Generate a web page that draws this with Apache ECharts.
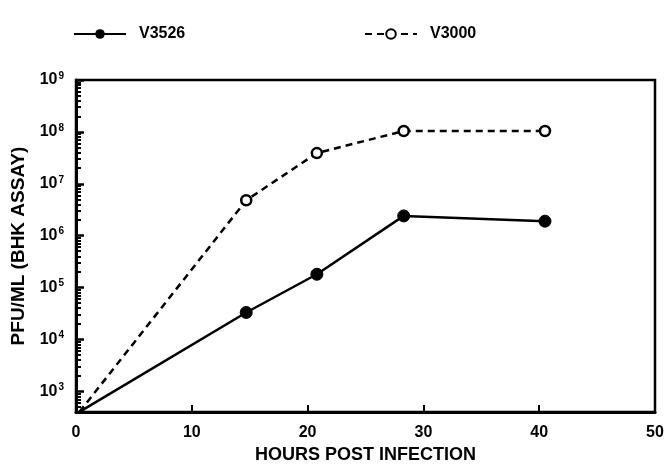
<!DOCTYPE html>
<html>
<head>
<meta charset="utf-8">
<script src="https://cdn.jsdelivr.net/npm/echarts@6/dist/echarts.min.js"></script>
<style>
  html, body { margin: 0; padding: 0; background: #fff; }
  #chart { width: 667px; height: 466px; }
</style>
</head>
<body>
<div id="chart"></div>
<script>
// hours after infection, and titers (PFU/ml)
const hours = [0.3, 14.7, 20.8, 28.3, 40.5];
const v3526 = [400, 3.3e4, 1.8e5, 2.4e6, 1.9e6];
const v3000 = [400, 4.8e6, 3.9e7, 1.04e8, 1.04e8];
const xTicks = [0, 10, 20, 30, 40, 50];
const yDecades = [3, 4, 5, 6, 7, 8, 9];
const yMin = 2.6, yMax = 9;

// minor log ticks 2..9 within each decade
const minorTicks = [];
for (let n = 2; n < 9; n++) {
  for (let k = 2; k <= 9; k++) {
    const t = n + Math.log10(k);
    if (t > yMin && t < yMax) minorTicks.push(t);
  }
}

function toPoints(vals) {
  return hours.map((h, i) => {
    const p = { value: [h, Math.log10(vals[i])] };
    if (i === 0) p.symbol = 'none';
    return p;
  });
}

const font = 'Liberation Sans, Arial, sans-serif';
const chart = echarts.init(document.getElementById('chart'), null, { renderer: 'canvas' });

const legendText = { fontFamily: font, fontSize: 16, fontWeight: 'bold', color: '#000', padding: [0, 0, 0, 8] };

chart.setOption({
  animation: false,
  textStyle: { fontFamily: font, color: '#000' },
  legend: [
    { data: ['V3526'], left: 68, top: 21, itemWidth: 52, itemHeight: 12, textStyle: legendText },
    { data: ['V3000'], left: 359, top: 21, itemWidth: 52, itemHeight: 12, textStyle: legendText }
  ],
  grid: {
    left: 76, right: 12, top: 80, bottom: 54,
    outerBoundsMode: 'none',
    show: true, borderColor: '#000', borderWidth: 2.5, backgroundColor: 'transparent'
  },
  xAxis: {
    type: 'value', min: 0, max: 50, interval: 10,
    name: 'HOURS POST INFECTION', nameLocation: 'middle', nameGap: 34,
    nameTextStyle: { fontFamily: font, fontSize: 18, fontWeight: 'bold', color: '#000' },
    axisLine: { lineStyle: { color: '#000', width: 3 } },
    axisTick: { inside: true, length: 7, lineStyle: { color: '#000', width: 2 } },
    axisLabel: {
      margin: 13, fontFamily: font, fontSize: 16, fontWeight: 'bold', color: '#000',
      formatter: v => xTicks.includes(v) ? String(v) : ''
    },
    splitLine: { show: false }
  },
  yAxis: [
    {
      type: 'value', min: yMin, max: yMax,
      name: 'PFU/ML (BHK ASSAY)', nameLocation: 'middle', nameGap: 47,
      nameTextStyle: { fontFamily: font, fontSize: 19, fontWeight: 'bold', color: '#000' },
      axisLine: { show: true, lineStyle: { color: '#000', width: 3 } },
      axisTick: { inside: true, length: 8, customValues: yDecades, lineStyle: { color: '#000', width: 2.5 } },
      axisLabel: {
        customValues: yDecades, margin: 12,
        formatter: v => '{b|10}{s|' + Math.round(v) + '}',
        rich: {
          b: { fontFamily: font, fontSize: 16, fontWeight: 'bold', color: '#000' },
          s: { fontFamily: font, fontSize: 10, fontWeight: 'bold', color: '#000', padding: [0, 0, 8, 1] }
        }
      },
      splitLine: { show: false }
    },
    {
      type: 'value', min: yMin, max: yMax, position: 'left',
      axisLine: { show: false },
      axisTick: { inside: true, length: 5, customValues: minorTicks, lineStyle: { color: '#000', width: 2 } },
      axisLabel: { show: false },
      splitLine: { show: false }
    }
  ],
  series: [
    {
      name: 'V3526', type: 'line', yAxisIndex: 0,
      data: toPoints(v3526),
      symbol: 'circle', symbolSize: 12,
      itemStyle: { color: '#000', borderColor: '#000' },
      lineStyle: { color: '#000', width: 2.5, type: 'solid' }
    },
    {
      name: 'V3000', type: 'line', yAxisIndex: 0,
      data: toPoints(v3000),
      symbol: 'circle', symbolSize: 10,
      itemStyle: { color: '#fff', borderColor: '#000', borderWidth: 2.5 },
      lineStyle: { color: '#000', width: 2.5, type: [7, 5] }
    }
  ]
});
</script>
</body>
</html>
